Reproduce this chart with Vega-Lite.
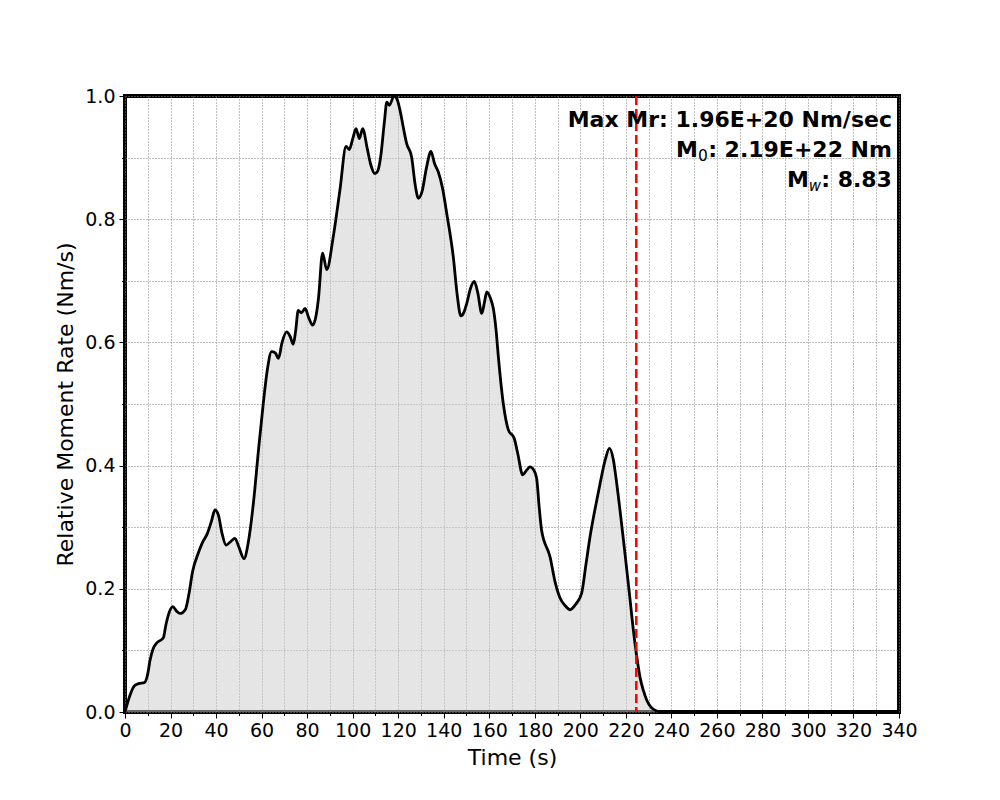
{
  "$schema": "https://vega.github.io/schema/vega-lite/v6.json",
  "width": 774,
  "height": 616,
  "autosize": {"type": "none"},
  "padding": {"left": 125, "top": 96, "right": 101, "bottom": 88},
  "background": "white",
  "config": {
    "font": "DejaVu Sans",
    "view": {"stroke": "black", "strokeWidth": 4},
    "axis": {
      "domain": false,
      "grid": true,
      "gridColor": "#808080",
      "gridDash": [1, 2],
      "gridWidth": 1,
      "tickColor": "black",
      "tickWidth": 1,
      "labelFont": "DejaVu Sans",
      "labelFontSize": 19,
      "labelColor": "black",
      "labelOverlap": false,
      "labelFlush": false,
      "titleFont": "DejaVu Sans",
      "titleFontSize": 22,
      "titleFontWeight": "normal",
      "titleColor": "black"
    }
  },
  "datasets": {
    "mr": [
      {"t": 0, "v": 0}, {"t": 2, "v": 0.025}, {"t": 4, "v": 0.042}, {"t": 5.9, "v": 0.046},
      {"t": 8.6, "v": 0.048}, {"t": 10, "v": 0.062}, {"t": 11, "v": 0.084}, {"t": 12.4, "v": 0.103},
      {"t": 13.9, "v": 0.112}, {"t": 16.8, "v": 0.12}, {"t": 18, "v": 0.142}, {"t": 19, "v": 0.157},
      {"t": 21, "v": 0.171}, {"t": 22.6, "v": 0.164}, {"t": 24.2, "v": 0.16}, {"t": 26.6, "v": 0.167},
      {"t": 28, "v": 0.19}, {"t": 29.7, "v": 0.228}, {"t": 32.2, "v": 0.258}, {"t": 34, "v": 0.275},
      {"t": 36.2, "v": 0.29}, {"t": 38, "v": 0.31}, {"t": 39.5, "v": 0.328}, {"t": 41, "v": 0.32},
      {"t": 42.5, "v": 0.292}, {"t": 44.4, "v": 0.271}, {"t": 46.5, "v": 0.277}, {"t": 48.3, "v": 0.282},
      {"t": 50, "v": 0.268}, {"t": 52.3, "v": 0.249}, {"t": 54, "v": 0.272}, {"t": 56.4, "v": 0.339},
      {"t": 58.5, "v": 0.42}, {"t": 60.8, "v": 0.503}, {"t": 62.5, "v": 0.555}, {"t": 64.4, "v": 0.585},
      {"t": 66, "v": 0.583}, {"t": 67.4, "v": 0.574}, {"t": 69, "v": 0.6}, {"t": 71, "v": 0.617},
      {"t": 72.5, "v": 0.61}, {"t": 73.9, "v": 0.597}, {"t": 75, "v": 0.62}, {"t": 76.1, "v": 0.652},
      {"t": 77.5, "v": 0.648}, {"t": 79.1, "v": 0.655}, {"t": 80.7, "v": 0.64}, {"t": 82.4, "v": 0.628},
      {"t": 84, "v": 0.645}, {"t": 85, "v": 0.672}, {"t": 86.8, "v": 0.745}, {"t": 88.6, "v": 0.718},
      {"t": 91.5, "v": 0.772}, {"t": 94.4, "v": 0.847}, {"t": 97.1, "v": 0.918}, {"t": 98.5, "v": 0.913},
      {"t": 100, "v": 0.93}, {"t": 101.5, "v": 0.947}, {"t": 102.9, "v": 0.931}, {"t": 104.4, "v": 0.947},
      {"t": 106.4, "v": 0.915}, {"t": 108, "v": 0.888}, {"t": 109.8, "v": 0.874}, {"t": 111, "v": 0.878},
      {"t": 112.3, "v": 0.901}, {"t": 114, "v": 0.96}, {"t": 115, "v": 0.99}, {"t": 116.1, "v": 0.985},
      {"t": 118.2, "v": 1.0}, {"t": 119.5, "v": 0.995}, {"t": 120.8, "v": 0.977}, {"t": 122.2, "v": 0.95},
      {"t": 123.7, "v": 0.923}, {"t": 125.9, "v": 0.901}, {"t": 127.5, "v": 0.855}, {"t": 128.9, "v": 0.834},
      {"t": 130.5, "v": 0.845}, {"t": 132.5, "v": 0.885}, {"t": 134.4, "v": 0.91}, {"t": 136, "v": 0.89},
      {"t": 137.6, "v": 0.877}, {"t": 139.5, "v": 0.85}, {"t": 141.3, "v": 0.81}, {"t": 144.2, "v": 0.739},
      {"t": 146, "v": 0.675}, {"t": 147.5, "v": 0.643}, {"t": 149, "v": 0.65}, {"t": 150.1, "v": 0.663},
      {"t": 151.8, "v": 0.688}, {"t": 153.4, "v": 0.699}, {"t": 155, "v": 0.68}, {"t": 156.7, "v": 0.647},
      {"t": 158, "v": 0.667}, {"t": 158.9, "v": 0.682}, {"t": 160.5, "v": 0.672}, {"t": 161.8, "v": 0.655},
      {"t": 163, "v": 0.62}, {"t": 164, "v": 0.577}, {"t": 166.2, "v": 0.5}, {"t": 168.4, "v": 0.458},
      {"t": 171, "v": 0.444}, {"t": 172.5, "v": 0.42}, {"t": 174.7, "v": 0.385}, {"t": 176.5, "v": 0.393},
      {"t": 177.9, "v": 0.398}, {"t": 179.5, "v": 0.393}, {"t": 180.8, "v": 0.38}, {"t": 182, "v": 0.33},
      {"t": 183, "v": 0.295}, {"t": 186.7, "v": 0.252}, {"t": 189, "v": 0.21}, {"t": 191.1, "v": 0.185},
      {"t": 193.5, "v": 0.172}, {"t": 195.5, "v": 0.166}, {"t": 198, "v": 0.175}, {"t": 200.6, "v": 0.193},
      {"t": 202.5, "v": 0.24}, {"t": 204.3, "v": 0.285}, {"t": 206.5, "v": 0.33}, {"t": 208.7, "v": 0.371},
      {"t": 211, "v": 0.41}, {"t": 212.8, "v": 0.428}, {"t": 214.5, "v": 0.41}, {"t": 216, "v": 0.371},
      {"t": 218, "v": 0.31}, {"t": 219.6, "v": 0.258}, {"t": 221.5, "v": 0.195}, {"t": 223.3, "v": 0.133},
      {"t": 224.8, "v": 0.09}, {"t": 226.2, "v": 0.057}, {"t": 227.7, "v": 0.035}, {"t": 229.2, "v": 0.019},
      {"t": 231, "v": 0.008}, {"t": 232.8, "v": 0.003}, {"t": 235, "v": 0}, {"t": 340, "v": 0}
    ]
  },
  "encoding": {
    "x": {
      "field": "t",
      "type": "quantitative",
      "scale": {"domain": [0, 340], "nice": false, "zero": false},
      "axis": {
        "title": "Time (s)",
        "values": [0, 10, 20, 30, 40, 50, 60, 70, 80, 90, 100, 110, 120, 130, 140, 150, 160, 170, 180, 190, 200, 210, 220, 230, 240, 250, 260, 270, 280, 290, 300, 310, 320, 330, 340],
        "labelExpr": "datum.value % 20 === 0 ? datum.label : ''",
        "tickSize": {"condition": {"test": "datum.value % 20 === 0", "value": 6}, "value": 3.5},
        "labelPadding": 3,
        "titlePadding": 7
      }
    },
    "y": {
      "field": "v",
      "type": "quantitative",
      "scale": {"domain": [0, 1], "nice": false},
      "axis": {
        "title": "Relative Moment Rate (Nm/s)",
        "values": [0, 0.1, 0.2, 0.3, 0.4, 0.5, 0.6, 0.7, 0.8, 0.9, 1.0],
        "format": ".1f",
        "labelExpr": "round(datum.value * 10) % 2 === 0 ? datum.label : ''",
        "tickSize": {"condition": {"test": "round(datum.value * 10) % 2 === 0", "value": 6}, "value": 3.5},
        "labelPadding": 4,
        "titlePadding": 7
      }
    }
  },
  "layer": [
    {
      "data": {"name": "mr"},
      "mark": {"type": "area", "interpolate": "monotone", "color": "#cccccc", "opacity": 0.5}
    },
    {
      "data": {"name": "mr"},
      "mark": {"type": "line", "interpolate": "monotone", "color": "black", "strokeWidth": 2.8}
    },
    {
      "data": {"values": [{"t": 224.6}]},
      "mark": {"type": "rule", "color": "#ff0000", "strokeWidth": 2.5, "strokeDash": [9, 4]},
      "encoding": {"x": {"field": "t", "type": "quantitative"}, "y": null}
    },
    {
      "data": {"values": [{"t": 336.9, "v": 0.95, "label": "Max Mr: 1.96E+20 Nm/sec"}, {"t": 336.9, "v": 0.901, "label": ": 2.19E+22 Nm"}, {"t": 336.9, "v": 0.852, "label": ": 8.83"}]},
      "mark": {"type": "text", "align": "right", "baseline": "alphabetic", "fontSize": 22, "fontWeight": "bold", "color": "black", "font": "DejaVu Sans"},
      "encoding": {"text": {"field": "label"}}
    },
    {
      "data": {"values": [{"t": 336.9, "v": 0.901, "label": "0"}]},
      "mark": {"type": "text", "align": "right", "baseline": "alphabetic", "fontSize": 15.5, "dx": -184, "dy": 4, "color": "black", "font": "DejaVu Sans"},
      "encoding": {"text": {"field": "label"}}
    },
    {
      "data": {"values": [{"t": 336.9, "v": 0.901, "label": "M"}]},
      "mark": {"type": "text", "align": "right", "baseline": "alphabetic", "fontSize": 22, "fontWeight": "bold", "dx": -194, "color": "black", "font": "DejaVu Sans"},
      "encoding": {"text": {"field": "label"}}
    },
    {
      "data": {"values": [{"t": 336.9, "v": 0.852, "label": "w"}]},
      "mark": {"type": "text", "align": "right", "baseline": "alphabetic", "fontSize": 15, "fontStyle": "italic", "dx": -71, "dy": 4, "color": "black", "font": "DejaVu Sans"},
      "encoding": {"text": {"field": "label"}}
    },
    {
      "data": {"values": [{"t": 336.9, "v": 0.852, "label": "M"}]},
      "mark": {"type": "text", "align": "right", "baseline": "alphabetic", "fontSize": 22, "fontWeight": "bold", "dx": -83, "color": "black", "font": "DejaVu Sans"},
      "encoding": {"text": {"field": "label"}}
    }
  ]
}
